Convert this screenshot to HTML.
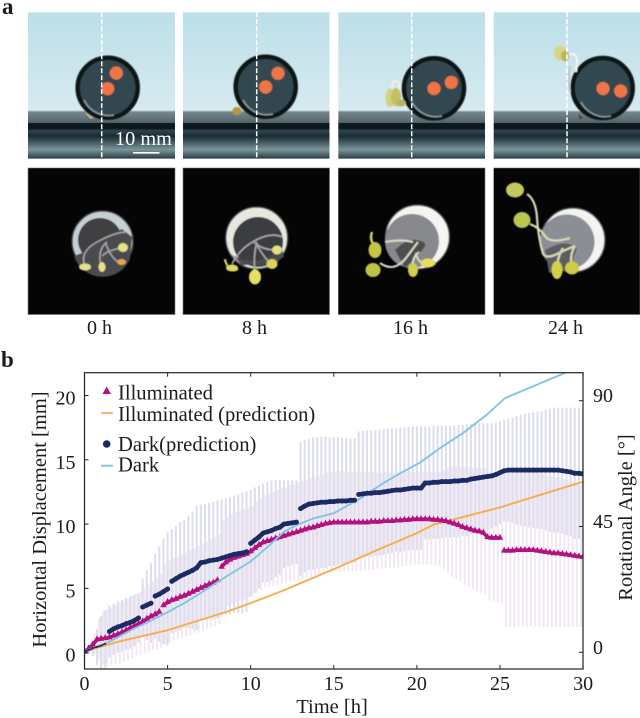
<!DOCTYPE html>
<html lang="en">
<head>
<meta charset="utf-8">
<title>Seedling-driven wheel displacement</title>
<style>
html,body{margin:0;padding:0;background:#fff;}
#figure{display:block;width:640px;height:718px;font-family:"Liberation Serif",serif;}
text{font-family:"Liberation Serif",serif;fill:#1c1c1c;}
</style>
</head>
<body>
<svg id="figure" width="640" height="718" viewBox="0 0 640 718" xmlns="http://www.w3.org/2000/svg">
<defs>
<linearGradient id="sceneGrad" gradientUnits="userSpaceOnUse" x1="0" y1="12" x2="0" y2="158.5">
<stop offset="0" stop-color="#bcdfe9"/>
<stop offset=".67" stop-color="#d6eaef"/>
<stop offset=".683" stop-color="#75878c"/>
<stop offset=".755" stop-color="#53656b"/>
<stop offset=".76" stop-color="#0c181d"/>
<stop offset=".795" stop-color="#0c181d"/>
<stop offset=".81" stop-color="#2f454d"/>
<stop offset=".845" stop-color="#1a2b32"/>
<stop offset=".87" stop-color="#2d444c"/>
<stop offset=".94" stop-color="#7c949b"/>
<stop offset="1" stop-color="#263d46"/>
</linearGradient>
<clipPath id="plotClip"><rect x="84.5" y="372.7" width="498.5" height="296.3"/></clipPath>
<filter id="soft" x="-10%" y="-10%" width="120%" height="120%"><feGaussianBlur stdDeviation=".6"/></filter>
</defs>

<text x="2" y="14" font-size="23" font-weight="bold">a</text>
<text x="1" y="367" font-size="23" font-weight="bold">b</text>

<!-- side-view photographs -->
<g>
<rect x="28" y="12.3" width="147" height="146.3" fill="url(#sceneGrad)"/>
<path d="M85 113l5 6 4-1-3-7z" fill="#b9a98c"/>
<g filter="url(#soft)">
<circle cx="107.7" cy="87.7" r="30" fill="#33474f" stroke="#0b1215" stroke-width="4.5"/>
<path d="M84 100a27 27 0 0 0 30 15" fill="none" stroke="#8b9ba0" stroke-width="1.5"/>
<circle cx="116.3" cy="73" r="6.6" fill="#ee7444"/>
<circle cx="107.7" cy="88.7" r="6.6" fill="#ee7444"/>
</g>
<line x1="101.7" y1="12.3" x2="101.7" y2="158.5" stroke="#fff" stroke-width="1.5" stroke-dasharray="5 2"/>
<text x="115" y="145" font-size="20.3" style="fill:#fff">10 mm</text>
<rect x="133" y="152" width="26.5" height="1.6" fill="#fff"/>
</g>
<g>
<rect x="183" y="12.3" width="146.5" height="146.3" fill="url(#sceneGrad)"/>
<g filter="url(#soft)">
<circle cx="265.7" cy="86.7" r="30" fill="#33474f" stroke="#0b1215" stroke-width="4.5"/>
<path d="M243 100a27 27 0 0 0 30 14" fill="none" stroke="#8b9ba0" stroke-width="1.5"/>
<circle cx="278" cy="73.3" r="6.6" fill="#ee7444"/>
<circle cx="265.7" cy="87" r="6.6" fill="#ee7444"/>
<ellipse cx="237" cy="111" rx="4.5" ry="4" fill="#b39a3e"/>
</g>
<line x1="256.7" y1="12.3" x2="256.7" y2="158.5" stroke="#fff" stroke-width="1.5" stroke-dasharray="5 2"/>
</g>
<g>
<rect x="338.3" y="12.3" width="146.7" height="146.3" fill="url(#sceneGrad)"/>
<g filter="url(#soft)">
<circle cx="434" cy="88.3" r="30" fill="#33474f" stroke="#0b1215" stroke-width="4.5"/>
<path d="M412 102a27 27 0 0 0 30 14" fill="none" stroke="#8b9ba0" stroke-width="1.5"/>
<circle cx="434" cy="88.5" r="6.6" fill="#ee7444"/>
<circle cx="451.3" cy="82.3" r="6.6" fill="#ee7444"/>
<path d="M399 90q1-10 -4 -9q-3 1 -3 7" fill="none" stroke="#f2f3ea" stroke-width="2"/>
<ellipse cx="390" cy="98" rx="4.5" ry="9" fill="#d5d27c"/>
<ellipse cx="396" cy="97" rx="5" ry="9" fill="#c4bf62"/>
<ellipse cx="401" cy="103" rx="5" ry="3.5" fill="#b9b65e"/>
</g>
<line x1="411.7" y1="12.3" x2="411.7" y2="158.5" stroke="#fff" stroke-width="1.5" stroke-dasharray="5 2"/>
</g>
<g>
<rect x="493.7" y="12.3" width="146.3" height="146.3" fill="url(#sceneGrad)"/>
<g filter="url(#soft)">
<circle cx="602.7" cy="88" r="30" fill="#33474f" stroke="#0b1215" stroke-width="4.5"/>
<path d="M581 102a27 27 0 0 0 30 14" fill="none" stroke="#8b9ba0" stroke-width="1.5"/>
<circle cx="603" cy="88.5" r="6.6" fill="#ee7444"/>
<circle cx="620.7" cy="91" r="6.6" fill="#ee7444"/>
<path d="M568 56q9-6 9 6l-1 10" fill="none" stroke="#f2f3ee" stroke-width="2.2"/>
<path d="M570 66q-2 14 0 26" fill="none" stroke="#b8c8cc" stroke-width="2"/>
<ellipse cx="560" cy="53" rx="6" ry="7.5" fill="#d8d584"/>
<ellipse cx="565" cy="56" rx="4" ry="5.5" fill="#b9b55c"/>
<path d="M579 114l4 4-4 1z" fill="#5a3d32"/>
</g>
<line x1="567" y1="12.3" x2="567" y2="158.5" stroke="#fff" stroke-width="1.5" stroke-dasharray="5 2"/>
</g>

<!-- top-view photographs -->
<g>
<rect x="28" y="168" width="147" height="146.5" fill="#050506" stroke="#777" stroke-width=".6"/>
<g filter="url(#soft)">
<circle cx="102.5" cy="241.5" r="30.5" fill="#c6d0d2" stroke="#3f4649" stroke-width="1.5"/>
<circle cx="100" cy="240" r="22" fill="#3f4043"/>
<path d="M74 256a30 30 0 0 0 56 3l2-22-10-8-20 10-15 12z" fill="#4a4b4f"/>
<path d="M85 266q-6-14 12-24t30-10M101 266q-4-16 6-24M118 262q-8-6-12-18M122 248q-14 2-20 8" fill="none" stroke="#a8a8a8" stroke-width="1.5"/>
<ellipse cx="85" cy="267" rx="6" ry="3.5" fill="#e6e08a"/>
<ellipse cx="102" cy="267" rx="3.5" ry="5" fill="#e6e08a"/>
<ellipse cx="121.5" cy="262" rx="4.5" ry="3" fill="#e8a24c"/>
<ellipse cx="123" cy="247.5" rx="5" ry="4.5" fill="#e8e083"/>
</g>
</g>
<g>
<rect x="183" y="168" width="146.5" height="146.5" fill="#050506" stroke="#777" stroke-width=".6"/>
<g filter="url(#soft)">
<circle cx="256.7" cy="238" r="31" fill="#e8e8e0" stroke="#3f4649" stroke-width="1.5"/>
<circle cx="258" cy="242" r="25" fill="#3b3c3f"/>
<path d="M232 255q25 14 50-6l2 8-16 8h-26z" fill="#4b4c50"/>
<path d="M232 264q8-16 24-24t26-3M255 272q-2-16 2-30M270 263q-8-8-14-20M276 250q-14 0-22-8" fill="none" stroke="#a9a9a9" stroke-width="1.6"/>
<path d="M226 261q-3-4 3 8 5 3 9 0" fill="none" stroke="#e1dc58" stroke-width="2"/>
<ellipse cx="232" cy="268" rx="6" ry="3.5" fill="#dcd85c"/>
<ellipse cx="255" cy="277" rx="6" ry="7.5" fill="#e6e060"/>
<ellipse cx="272" cy="264" rx="5.5" ry="5" fill="#d8d45a"/>
<ellipse cx="277" cy="250" rx="5" ry="4.5" fill="#e5e083"/>
</g>
</g>
<g>
<rect x="338.3" y="168" width="146.7" height="146.5" fill="#050506" stroke="#777" stroke-width=".6"/>
<g filter="url(#soft)">
<circle cx="417.5" cy="237" r="32" fill="#f4f4f0" stroke="#46494c" stroke-width="1.5"/>
<circle cx="412" cy="241" r="27" fill="#88898c"/>
<path d="M395 250q12-12 22-10t8 6-12 14-8 8z" fill="#4c4d50"/>
<path d="M385 242q16-3 28 0M380 263q14 10 26-5l12-16M413 270q-2-12 6-18M428 263q-10 2-12-10" fill="none" stroke="#d9d9c8" stroke-width="2"/>
<path d="M372 232q-4 12 8 16" fill="none" stroke="#d5d25c" stroke-width="2.5"/>
<ellipse cx="375" cy="250" rx="6.5" ry="8" fill="#c3c545"/>
<ellipse cx="373" cy="270" rx="7.5" ry="7" fill="#bfc244"/>
<ellipse cx="413" cy="270" rx="5" ry="7" fill="#cfd04e"/>
<ellipse cx="428" cy="263" rx="7.5" ry="4.5" fill="#e6dd62"/>
</g>
</g>
<g>
<rect x="493.7" y="168" width="146.3" height="146.5" fill="#050506" stroke="#777" stroke-width=".6"/>
<g filter="url(#soft)">
<circle cx="573" cy="240" r="32" fill="#f3f3ef" stroke="#4a4e50" stroke-width="1.5"/>
<circle cx="567" cy="242" r="27.5" fill="#8b8e94"/>
<path d="M545 250q20-12 32-2l-8 22-20 3z" fill="#5c5d62"/>
<path d="M527 194q9 6 10 24t6 36q4 5 14 0t18-8M530 224q10 4 15 12t25 2M557 268q0-10 6-20M572 266q-3-10 3-20" fill="none" stroke="#dcd9b8" stroke-width="2.2"/>
<ellipse cx="515" cy="190" rx="9" ry="7.5" fill="#c4c95c"/>
<ellipse cx="522" cy="220" rx="8.5" ry="8" fill="#bcc653"/>
<ellipse cx="557" cy="270" rx="5.5" ry="9" fill="#d2d24a"/>
<ellipse cx="572" cy="268" rx="7" ry="6.5" fill="#cdcb47"/>
</g>
</g>

<text x="99.5" y="334" font-size="20" text-anchor="middle">0 h</text>
<text x="254.5" y="334" font-size="20" text-anchor="middle">8 h</text>
<text x="410.5" y="334" font-size="20" text-anchor="middle">16 h</text>
<text x="565.5" y="334" font-size="20" text-anchor="middle">24 h</text>

<!-- chart -->
<g id="errorLayer" clip-path="url(#plotClip)"></g>
<g id="lineLayer" clip-path="url(#plotClip)"></g>
<g id="markerLayer" clip-path="url(#plotClip)"></g>
<g id="axisLayer"></g>

<text transform="translate(46,519.5) rotate(-90)" font-size="20.5" text-anchor="middle">Horizontal Displacement [mm]</text>
<text transform="translate(632,517.5) rotate(-90)" font-size="20.5" text-anchor="middle">Rotational Angle [°]</text>
<text x="332" y="713" font-size="20.5" text-anchor="middle">Time [h]</text>

<g>
<path d="M106.7 386.5l4.2 7.5h-8.4z" fill="#b5107f"/>
<text x="118" y="399.3" font-size="20.6">Illuminated</text>
<line x1="101" x2="113" y1="413" y2="413" stroke="#f2a33c" stroke-width="1.5"/>
<text x="118" y="421" font-size="20.6">Illuminated (prediction)</text>
<circle cx="106.7" cy="444" r="3.8" fill="#1b2a63"/>
<text x="118" y="451" font-size="20.6">Dark(prediction)</text>
<line x1="101" x2="113" y1="465.7" y2="465.7" stroke="#82c4e4" stroke-width="2"/>
<text x="118" y="471.7" font-size="20.6">Dark</text>
</g>
</svg>

<script>
const sampleHours = [
0,.25,.5,.75,1,1.25,1.5,1.75,2,2.25,2.5,2.75,3,3.25,3.5,3.75,4,4.25,4.5,4.75,
5,5.25,5.5,5.75,6,6.25,6.5,6.75,7,7.25,7.5,7.75,8,8.25,8.5,8.75,9,9.25,9.5,9.75,
10,10.25,10.5,10.75,11,11.25,11.5,11.75,12,12.25,12.5,12.75,13,13.25,13.5,13.75,14,14.25,14.5,14.75,
15,15.25,15.5,15.75,16,16.25,16.5,16.75,17,17.25,17.5,17.75,18,18.25,18.5,18.75,19,19.25,19.5,19.75,
20,20.25,20.5,20.75,21,21.25,21.5,21.75,22,22.25,22.5,22.75,23,23.25,23.5,23.75,24,24.25,24.5,24.75,
25,25.25,25.5,25.75,26,26.25,26.5,26.75,27,27.25,27.5,27.75,28,28.25,28.5,28.75,29,29.25,29.5,29.75,30];
const darkValues = [
.1,.2,.35,.45,.55,.7,1.65,1.85,2,2.1,2.25,2.35,2.5,2.7,3.55,3.7,3.85,4.4,4.55,4.75,
4.95,5.55,5.75,5.95,6.1,6.25,6.4,6.6,7,7.05,7.15,7.2,7.25,7.35,7.45,7.55,7.65,7.7,7.75,7.85,
8.5,8.75,9,9.3,9.4,9.5,9.65,9.75,10,10.05,10.1,10.15,11.2,11.4,11.55,11.6,11.65,11.7,11.7,11.75,
11.75,11.8,11.8,11.8,11.85,11.85,12.3,12.35,12.4,12.4,12.45,12.45,12.5,12.55,12.6,12.65,12.65,12.7,12.75,12.8,
12.8,12.8,13.2,13.2,13.25,13.25,13.3,13.3,13.3,13.35,13.35,13.4,13.4,13.5,13.55,13.6,13.65,13.7,13.75,13.85,
14,14.15,14.2,14.2,14.2,14.2,14.2,14.2,14.2,14.2,14.2,14.2,14.2,14.2,14.2,14.15,14.1,14.05,13.95,13.95,13.9];
const illuminatedValues = [
.15,.4,.7,1.1,1.15,1.2,1.25,1.4,1.5,1.65,1.8,2,2.15,2.3,2.5,2.7,2.9,3.05,3.25,3.75,
4,4.15,4.25,4.4,4.5,4.65,4.8,4.95,5.1,5.25,5.4,5.5,5.7,6.75,7.1,7.3,7.45,7.55,7.65,7.75,
7.95,8.2,8.45,8.65,8.75,8.85,8.95,9.05,9.15,9.25,9.35,9.45,9.55,9.65,9.75,9.8,9.9,10,10.1,10.15,
10.2,10.2,10.2,10.2,10.2,10.2,10.2,10.2,10.2,10.25,10.25,10.25,10.3,10.3,10.3,10.35,10.35,10.4,10.4,10.45,
10.45,10.45,10.45,10.45,10.4,10.4,10.35,10.3,10.2,10.1,10,9.85,9.75,9.65,9.55,9.5,9.4,9.05,9,9,
9,8,8,8,8.05,8.05,8.05,8.05,8.05,8,7.95,7.9,7.85,7.8,7.8,7.75,7.7,7.65,7.6,7.55,7.5];
const darkErrors = [
.1,.3,.6,1.4,2.3,2.6,2,2,2,2,2,2.05,2,1.9,2.25,2.7,3.1,3.3,3.7,4.1,
4.4,4.05,4.1,4.2,4.2,4.35,4.55,4.85,4.5,4.5,4.5,4.55,4.6,4.55,4.55,4.55,4.55,4.6,4.7,4.7,
4.15,4.1,4,3.85,3.9,3.9,3.75,3.7,3.4,3.35,3.3,3.25,5.2,5.15,5.1,5.15,5.1,5.1,5.1,5,
5,4.95,4.9,4.9,4.85,4.85,4.9,4.9,4.9,4.9,4.9,4.9,4.9,4.85,4.85,4.8,4.85,4.8,4.8,4.8,
4.8,4.8,4.4,4.4,4.4,4.4,4.4,4.35,4.35,4.35,4.35,4.3,4.35,4.3,4.3,4.25,4.2,4.15,4.1,4.05,
4,3.95,4,4.1,4.2,4.3,4.4,4.45,4.5,4.55,4.6,4.7,4.8,4.85,4.85,4.9,4.95,5,5.1,5.1,5.15];
const illuminatedErrors = [
.1,.4,.8,1.6,2.1,2.2,2.25,2.3,2.35,2.35,2.4,2.4,2.4,2.45,2.5,2.6,2.7,2.8,2.9,3.1,
3.2,3.2,3.2,3.25,3.25,3.3,3.3,3.35,3.4,3.4,3.45,3.45,3.5,3.5,3.5,3.5,3.5,3.5,3.5,3.5,
3.5,3.55,3.6,3.6,3.65,3.65,3.7,3.7,3.7,3.75,3.75,3.8,3.8,3.8,3.85,3.85,3.85,3.9,3.9,3.9,
3.9,3.9,3.9,3.85,3.85,3.85,3.85,3.8,3.8,3.8,3.75,3.75,3.75,3.7,3.7,3.7,3.65,3.65,3.6,3.6,
3.6,3.6,3.6,3.6,3.6,3.7,3.85,4.05,4.3,4.4,4.5,4.6,4.65,4.7,4.8,4.85,4.9,4.95,5,5.1,
5.2,6,6,6,6,6,6,6,6,6,5.95,5.9,5.85,5.8,5.8,5.75,5.7,5.65,5.6,5.55,5.5];
const darkLineHours = [0,1,1.5,2,3,4,5,6,7,8,9,10,11,12,12.8,13.8,15,16.6,17.3,18,19,20.2,21.5,22.8,24.2,25.3,28.9,29.2];
const darkLineValues = [.1,.6,.85,1.2,1.9,2.5,3.15,3.85,4.65,5.5,6.3,7.1,8.2,9.4,9.95,10.45,10.85,12,12.6,13.2,13.95,14.8,16,17.1,18.5,19.8,21.75,21.95];
const illuminatedLineHours = [0,2,5,7,8.6,10.2,12,15,18,20,21,25,30];
const illuminatedLineValues = [.1,.85,1.75,2.55,3.2,3.95,4.85,6.5,8.2,9.3,9.95,11.3,13.3];
const xTicks = [0,5,10,15,20,25,30];
const leftTicks = [0,5,10,15,20];
const rightTicks = [0,45,90];

const SVGNS = 'http://www.w3.org/2000/svg';
const plotLeft = 84.5, plotRight = 583, plotTop = 372.7, plotBottom = 669;
function xScale(h){ return 84.5 + h * 16.62; }
function yScale(mm){ return 652.7 - mm * 12.86; }
function angleScale(deg){ return 652.3 - deg * 2.7955; }
function make(tag, attrs, parent){
  const el = document.createElementNS(SVGNS, tag);
  for (const k in attrs) el.setAttribute(k, attrs[k]);
  parent.appendChild(el);
  return el;
}
const errorLayer = document.getElementById('errorLayer');
const lineLayer = document.getElementById('lineLayer');
const markerLayer = document.getElementById('markerLayer');
const axisLayer = document.getElementById('axisLayer');

sampleHours.forEach(function(h, i){
  const bar = make('line', {x1:xScale(h)+2, x2:xScale(h)+2, y1:yScale(illuminatedValues[i]+illuminatedErrors[i]), y2:yScale(illuminatedValues[i]-illuminatedErrors[i]), stroke:'#d3b3d8', 'stroke-width':2, 'stroke-opacity':.3}, errorLayer);
  
  
});
sampleHours.forEach(function(h, i){
  const bar = make('line', {x1:xScale(h), x2:xScale(h), y1:yScale(darkValues[i]+darkErrors[i]), y2:yScale(darkValues[i]-darkErrors[i]), stroke:'#aeb0d4', 'stroke-width':2, 'stroke-opacity':.42}, errorLayer);
  
  
});

function linePoints(hours, values){
  return hours.map(function(h, i){ return xScale(h).toFixed(1) + ',' + yScale(values[i]).toFixed(1); }).join(' ');
}
const illuminatedLine = make('polyline', {points:linePoints(illuminatedLineHours, illuminatedLineValues), fill:'none', stroke:'#f5ae4c', 'stroke-width':1.9}, lineLayer);



sampleHours.forEach(function(h, i){
  const cx = xScale(h), cy = yScale(illuminatedValues[i]);
  if (i > 0 && Math.abs(illuminatedValues[i]-illuminatedValues[i-1]) < 0.42) {
    const seg = make('line', {x1:xScale(sampleHours[i-1]), x2:cx, y1:yScale(illuminatedValues[i-1])+1, y2:cy+1, stroke:'#b5107f', 'stroke-width':3.6}, markerLayer);
    
    
  }
  const tri = make('path', {d:'M'+cx+' '+(cy-3.2)+'l3.2 6h-6.4z', fill:'#b5107f'}, markerLayer);
  
  
});
const darkLine = make('polyline', {points:linePoints(darkLineHours, darkLineValues), fill:'none', stroke:'#82c4e4', 'stroke-width':1.9}, markerLayer);


sampleHours.forEach(function(h, i){
  const cx = xScale(h), cy = yScale(darkValues[i]);
  if (i > 0 && Math.abs(darkValues[i]-darkValues[i-1]) < 0.42) {
    const seg = make('line', {x1:xScale(sampleHours[i-1]), x2:cx, y1:yScale(darkValues[i-1]), y2:cy, stroke:'#1b2a63', 'stroke-width':i < 6 ? 1.5 : 4.6}, markerLayer);
    
    
  }
  const dot = make('circle', {cx:cx, cy:cy, r:i < 6 ? 1 : 2.5, fill:'#1b2a63'}, markerLayer);
  
  
});

const frame = make('rect', {x:plotLeft, y:plotTop, width:plotRight-plotLeft, height:plotBottom-plotTop, fill:'none', stroke:'#222', 'stroke-width':1.2}, axisLayer);



xTicks.forEach(function(t){
  const x = xScale(t);
  const bottomTick = make('line', {x1:x, x2:x, y1:plotBottom, y2:plotBottom-4, stroke:'#222', 'stroke-width':1}, axisLayer);
  
  
  const topTick = make('line', {x1:x, x2:x, y1:plotTop, y2:plotTop+4, stroke:'#222', 'stroke-width':1}, axisLayer);
  
  
  const label = make('text', {x:x, y:690, 'font-size':20, 'text-anchor':'middle'}, axisLayer);
  label.textContent = t;
  
  
});
leftTicks.forEach(function(t){
  const y = yScale(t);
  const tick = make('line', {x1:plotLeft, x2:plotLeft+4, y1:y, y2:y, stroke:'#222', 'stroke-width':1}, axisLayer);
  
  
  const label = make('text', {x:75.5, y:y+9, 'font-size':20, 'text-anchor':'end'}, axisLayer);
  label.textContent = t;
  
  
});
rightTicks.forEach(function(t){
  const y = angleScale(t);
  const tick = make('line', {x1:plotRight, x2:plotRight-4, y1:y, y2:y, stroke:'#222', 'stroke-width':1}, axisLayer);
  
  
  const label = make('text', {x:593, y:y+1.5, 'font-size':20}, axisLayer);
  label.textContent = t;
  
  
});
</script>
</body>
</html>
